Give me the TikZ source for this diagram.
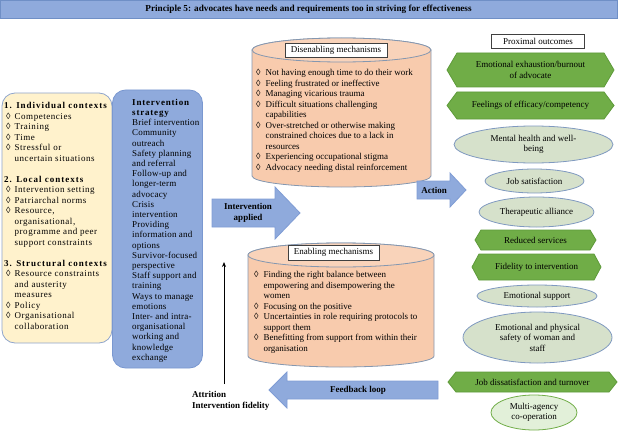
\documentclass[tikz,border=0pt]{standalone}
\usepackage{fontspec}
\setmainfont{Liberation Serif}
\newfontfamily\ctxfont[LetterSpace=6,BoldFeatures={LetterSpace=11}]{Liberation Serif}
\newfontfamily\stratfont[LetterSpace=2,BoldFeatures={LetterSpace=9}]{Liberation Serif}
\usetikzlibrary{arrows.meta,shapes.geometric}
\definecolor{titleblue}{HTML}{8FAADC}
\definecolor{titleedge}{HTML}{6F8FC6}
\definecolor{ctxfill}{HTML}{FFF2CC}
\definecolor{ctxedge}{HTML}{8FA5CC}
\definecolor{stratfill}{HTML}{8FAADC}
\definecolor{stratedge}{HTML}{7A98D0}
\definecolor{cylfill}{HTML}{F8CBAD}
\definecolor{cyltop}{HTML}{F9D3BA}
\definecolor{cyledge}{HTML}{8497B0}
\definecolor{arrowfill}{HTML}{8FAADC}
\definecolor{arrowedge}{HTML}{7F9CD4}
\definecolor{hexfill}{HTML}{70AD47}
\definecolor{hexedge}{HTML}{5E9A3A}
\definecolor{ellfill}{HTML}{D6E1CB}
\definecolor{elledge}{HTML}{7F99C0}
\definecolor{mafill}{HTML}{E2F0D9}
\definecolor{maedge}{HTML}{70AD47}
\newcommand\drawhex[5]{\filldraw[hexshape] ({#1-#3},{#2}) -- ({#1-#3+#5},{#2-#4}) -- ({#1+#3-#5},{#2-#4}) -- ({#1+#3},{#2}) -- ({#1+#3-#5},{#2+#4}) -- ({#1-#3+#5},{#2+#4}) -- cycle;}
\newcommand\drawcyl[6]{%
  \pgfmathsetmacro\cylrx{(#2-#1)/2}%
  \pgfmathsetmacro\cylcx{(#1+#2)/2}%
  \filldraw[cylbody] (#1,#3) -- (#1,#5) arc[start angle=180,end angle=0,x radius=\cylrx,y radius=#6] -- (#2,#3) arc[start angle=0,end angle=-180,x radius=\cylrx,y radius=#4] -- cycle;
  \filldraw[cyllid] (\cylcx,#3) ellipse [x radius=\cylrx, y radius=#4];}
\begin{document}
\begin{tikzpicture}[x=1pt,y=-1pt,
  base/.style={font=\fontsize{9}{10.5}\selectfont, text=black},
  titlebar/.style={base, font=\fontsize{9.2}{10.5}\selectfont\bfseries, fill=titleblue, draw=titleedge, line width=0.8pt, minimum width=617pt, minimum height=18pt, inner sep=0pt},
  ctxbox/.style={fill=ctxfill, draw=ctxedge, line width=0.8pt, rounded corners=13pt, inner sep=0pt},
  stratbox/.style={fill=stratfill, draw=stratedge, line width=0.8pt, rounded corners=13pt, inner sep=0pt},
  blocktext/.style={base, anchor=north west, inner sep=0pt},
  cylbody/.style={fill=cylfill, draw=cyledge, line width=0.8pt},
  cyllid/.style={fill=cyltop, draw=cyledge, line width=0.8pt},
  labelbox/.style={base, fill=white, draw=black!75, line width=0.6pt, inner sep=0pt},
  arrowshape/.style={fill=arrowfill, draw=arrowedge, line width=0.8pt},
  arrowlabel/.style={base, font=\fontsize{9}{10.5}\selectfont\bfseries, align=center, inner sep=0pt},
  hexshape/.style={fill=hexfill, draw=hexedge, line width=0.8pt},
  hextext/.style={base, align=center, inner sep=0pt},
  ellnode/.style={base, ellipse, fill=ellfill, draw=elledge, line width=0.8pt, inner sep=0pt, align=center},
  manode/.style={base, ellipse, fill=mafill, draw=maedge, line width=0.8pt, inner sep=0pt, align=center}
]
\useasboundingbox (0,0) rectangle (620,433);

% title
\node[titlebar] (title) at (308.5,9.5) {Principle 5: advocates have needs and requirements too in striving for effectiveness};

% left context box
\node[ctxbox, minimum width=110pt, minimum height=250pt] (ctxbox) at (57,218) {};
\node[blocktext, font=\ctxfont\fontsize{9}{10.5}\selectfont] (ctxtext) at (4,101) {\begin{tabular}{@{\hspace{2pt}}l@{\hspace{4pt}}l@{}}
\multicolumn{2}{@{}l@{}}{\textbf{1. Individual contexts}}\\
◊ & Competencies\\
◊ & Training\\
◊ & Time\\
◊ & Stressful or\\
  & uncertain situations\\
\multicolumn{2}{@{}l@{}}{}\\
\multicolumn{2}{@{}l@{}}{\textbf{2. Local contexts}}\\
◊ & Intervention setting\\
◊ & Patriarchal norms\\
◊ & Resource,\\
  & organisational,\\
  & programme and peer\\
  & support constraints\\
\multicolumn{2}{@{}l@{}}{}\\
\multicolumn{2}{@{}l@{}}{\textbf{3. Structural contexts}}\\
◊ & Resource constraints\\
  & and austerity\\
  & measures\\
◊ & Policy\\
◊ & Organisational\\
  & collaboration
\end{tabular}};

% intervention strategy box
\node[stratbox, minimum width=90pt, minimum height=278pt] (stratbox) at (157.5,229) {};
\node[blocktext, font=\stratfont\fontsize{9}{10.2}\selectfont] (strattext) at (132,98) {\begin{tabular}{@{}l@{}}
\textbf{Intervention}\\
\textbf{strategy}\\
Brief intervention\\
Community\\
outreach\\
Safety planning\\
and referral\\
Follow-up and\\
longer-term\\
advocacy\\
Crisis\\
intervention\\
Providing\\
information and\\
options\\
Survivor-focused\\
perspective\\
Staff support and\\
training\\
Ways to manage\\
emotions\\
Inter- and intra-\\
organisational\\
working and\\
knowledge\\
exchange
\end{tabular}};

% disenabling cylinder
\drawcyl{252}{431}{50}{12}{176}{11}
\node[labelbox, minimum width=102pt, minimum height=14pt] (dislabel) at (336,50) {Disenabling mechanisms};
\node[blocktext] (distext) at (256,68) {\begin{tabular}{@{}l@{\hspace{5pt}}l@{}}
◊ & Not having enough time to do their work\\
◊ & Feeling frustrated or ineffective\\
◊ & Managing vicarious trauma\\
◊ & Difficult situations challenging\\
  & capabilities\\
◊ & Over-stretched or otherwise making\\
  & constrained choices due to a lack in\\
  & resources\\
◊ & Experiencing occupational stigma\\
◊ & Advocacy needing distal reinforcement
\end{tabular}};

% enabling cylinder
\drawcyl{248}{434}{255}{12}{356}{11}
\node[labelbox, minimum width=91pt, minimum height=15pt] (enlabel) at (333.5,252.5) {Enabling mechanisms};
\node[blocktext] (entext) at (254,270) {\begin{tabular}{@{}l@{\hspace{5pt}}l@{}}
◊ & Finding the right balance between\\
  & empowering and disempowering the\\
  & women\\
◊ & Focusing on the positive\\
◊ & Uncertainties in role requiring protocols to\\
  & support them\\
◊ & Benefitting from support from within their\\
  & organisation
\end{tabular}};

% intervention applied arrow
\filldraw[arrowshape] (212,199) -- (275,199) -- (275,187) -- (300,213) -- (275,239) -- (275,227) -- (212,227) -- cycle;
\node[arrowlabel] (applied) at (248,213) {Intervention\\applied};

% action arrow
\filldraw[arrowshape] (417,181) -- (450,181) -- (450,173) -- (466,190) -- (450,207) -- (450,199) -- (417,199) -- cycle;
\node[arrowlabel] (action) at (434,190) {Action};

% feedback loop arrow
\filldraw[arrowshape] (438,381) -- (287,381) -- (287,372) -- (269,390) -- (287,408) -- (287,399) -- (438,399) -- cycle;
\node[arrowlabel] (feedback) at (358,390) {Feedback loop};

% attrition arrow and label
\node[blocktext, font=\fontsize{9}{10.8}\selectfont\bfseries] (attr) at (192,390) {\begin{tabular}{@{}l@{}}Attrition\\Intervention fidelity\end{tabular}};
\coordinate (attrbase) at (224,384);
\coordinate (attrtip) at (224,262);
\draw[-{Stealth[length=5pt,width=4pt]}, line width=0.8pt] (attrbase) -- (attrtip);

% proximal outcomes
\node[labelbox, minimum width=93pt, minimum height=14pt] (proximal) at (538,41) {Proximal outcomes};

\drawhex{530.5}{70}{83.5}{17}{10}
\node[hextext] (exhaust) at (530.5,70) {Emotional exhaustion/burnout\\of advocate};

\drawhex{530.5}{105.5}{83.5}{13.5}{10}
\node[hextext] (efficacy) at (530.5,105.5) {Feelings of efficacy/competency};

\node[ellnode, minimum width=159pt, minimum height=37pt] (mental) at (533.5,144.5) {Mental health and well-\\being};
\node[ellnode, minimum width=99pt, minimum height=24pt] (jobsat) at (534.5,181) {Job satisfaction};
\node[ellnode, minimum width=115pt, minimum height=30pt] (therapeutic) at (536.5,212) {Therapeutic alliance};

\drawhex{535.5}{240}{60.5}{10}{6}
\node[hextext] (reduced) at (535.5,240) {Reduced services};

\drawhex{536.5}{267}{64.5}{13}{7}
\node[hextext] (fidelity) at (536.5,267) {Fidelity to intervention};

\node[ellnode, minimum width=120pt, minimum height=22pt] (emosupport) at (537,296) {Emotional support};
\node[ellnode, minimum width=149pt, minimum height=51pt] (safety) at (537.5,337.5) {Emotional and physical\\safety of woman and\\staff};

\drawhex{532.5}{382}{84.5}{10}{8}
\node[hextext] (dissat) at (532.5,382) {Job dissatisfaction and turnover};

\node[manode, minimum width=86pt, minimum height=35pt] (multiagency) at (534,412.5) {Multi-agency\\co-operation};
\end{tikzpicture}
\end{document}
